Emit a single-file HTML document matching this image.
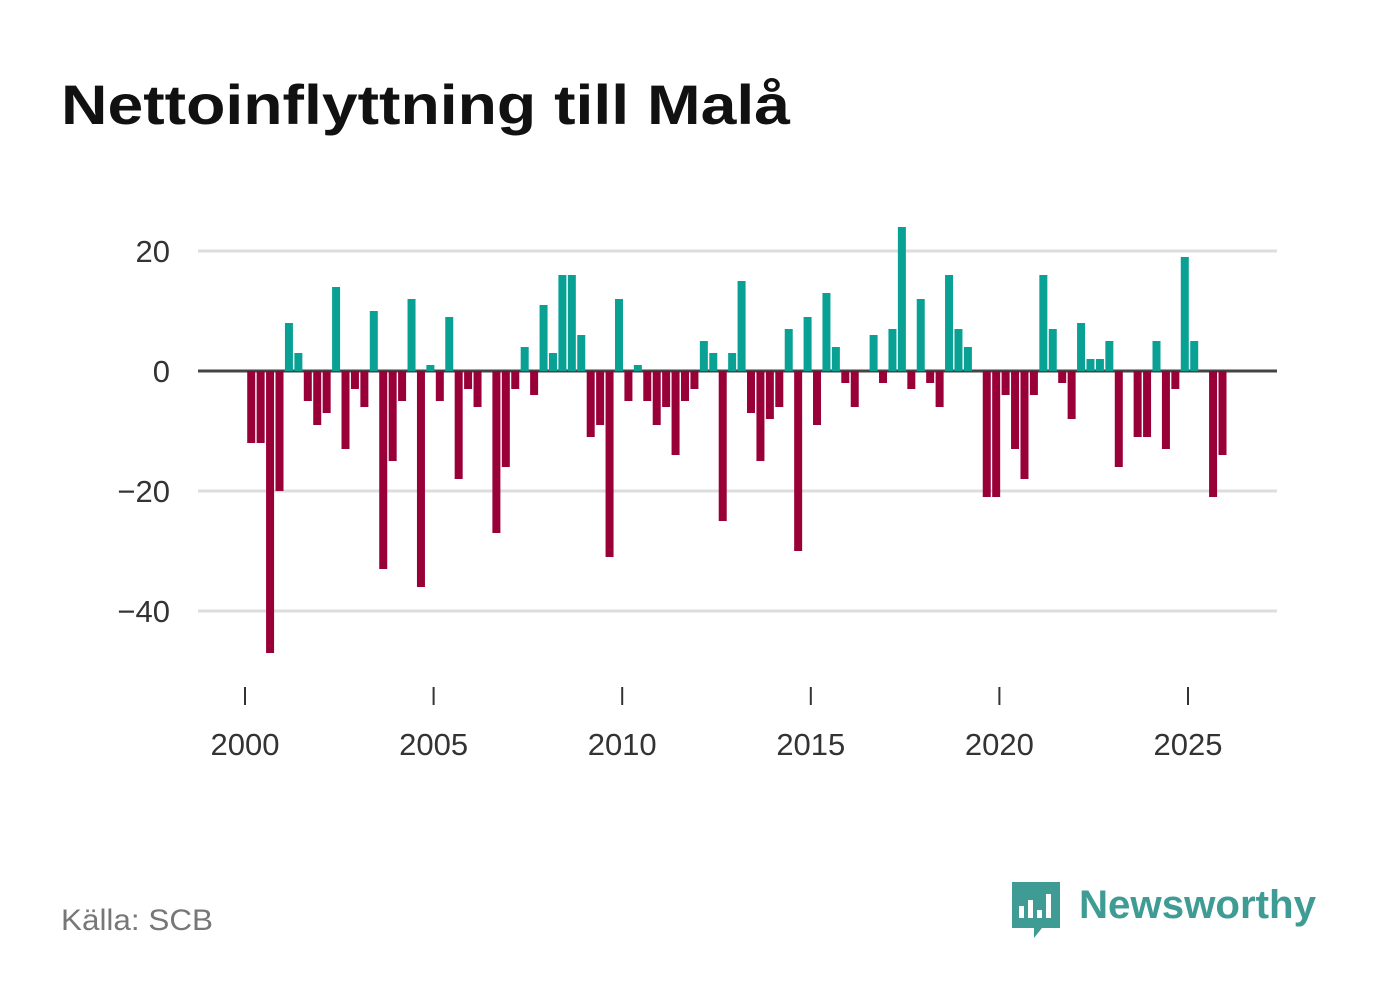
<!DOCTYPE html>
<html><head><meta charset="utf-8"><style>
body{margin:0;width:1382px;height:999px;background:#fff;font-family:"Liberation Sans",sans-serif;overflow:hidden}
</style></head><body>
<svg width="1382" height="999">
<text x="61" y="124" font-size="56" font-weight="bold" fill="#111" textLength="729" lengthAdjust="spacingAndGlyphs">Nettoinflyttning till Malå</text>
<g id="grid"></g><g id="bars"></g><g id="xaxis"></g>
<text x="61" y="930" font-size="30" fill="#777" textLength="152" lengthAdjust="spacingAndGlyphs">Källa: SCB</text>
<g>
<path d="M1012 882h48v46h-18l-8 10v-10h-22z" fill="#3f9c94"/>
<rect x="1019" y="906" width="5" height="12" fill="#fff"/><rect x="1028" y="900" width="5" height="18" fill="#fff"/><rect x="1037" y="910" width="5" height="8" fill="#fff"/><rect x="1046" y="894" width="5" height="24" fill="#fff"/>
<text x="1079" y="918" font-size="40" font-weight="bold" fill="#3f9c94" textLength="237" lengthAdjust="spacingAndGlyphs">Newsworthy</text>
</g>
</svg>
<script>
const values=[-12,-12,-47,-20,8,3,-5,-9,-7,14,-13,-3,-6,10,-33,-15,-5,12,-36,1,-5,9,-18,-3,-6,0,-27,-16,-3,4,-4,11,3,16,16,6,-11,-9,-31,12,-5,1,-5,-9,-6,-14,-5,-3,5,3,-25,3,15,-7,-15,-8,-6,7,-30,9,-9,13,4,-2,-6,0,6,-2,7,24,-3,12,-2,-6,16,7,4,0,-21,-21,-4,-13,-18,-4,16,7,-2,-8,8,2,2,5,-16,0,-11,-11,5,-13,-3,19,5,0,-21,-14];
const startYear=2000;
const yTicks=[20,0,-20,-40];
const yTickLabels=["20","0","\u221220","\u221240"];
const xTicks=[2000,2005,2010,2015,2020,2025];
const NS="http://www.w3.org/2000/svg";
const x=t=>245+(t-2000)*37.72;
const y=v=>371-v*6;
function mk(tag,attrs,parent){const e=document.createElementNS(NS,tag);for(const k in attrs)e.setAttribute(k,attrs[k]);document.getElementById(parent).appendChild(e);return e;}
yTicks.forEach((t,i)=>{
 const l=mk('line',{x1:198,x2:1277,y1:y(t),y2:y(t),stroke:t===0?'#444':'#ddd','stroke-width':3},'grid');
 
 
 const tx=mk('text',{x:170,y:y(t)+11,'text-anchor':'end','font-size':31,fill:'#333'},'grid');
 tx.textContent=yTickLabels[i];
 
 
});
values.forEach((v,i)=>{
 if(v===0)return;
 const cx=x(startYear+i*0.25+0.125)+1.5;
 const r=mk('rect',{x:cx-4,width:8,y:v>0?y(v):y(0),height:Math.abs(v)*6,fill:v>0?'#0aa195':'#990038'},'bars');
 
 
});
xTicks.forEach(t=>{
 const l=mk('line',{x1:x(t),x2:x(t),y1:687,y2:705,stroke:'#333','stroke-width':2},'xaxis');
 
 
 const tx=mk('text',{x:x(t),y:755,'text-anchor':'middle','font-size':31,fill:'#333'},'xaxis');
 tx.textContent=t;
 
 
});
</script>
</body></html>
